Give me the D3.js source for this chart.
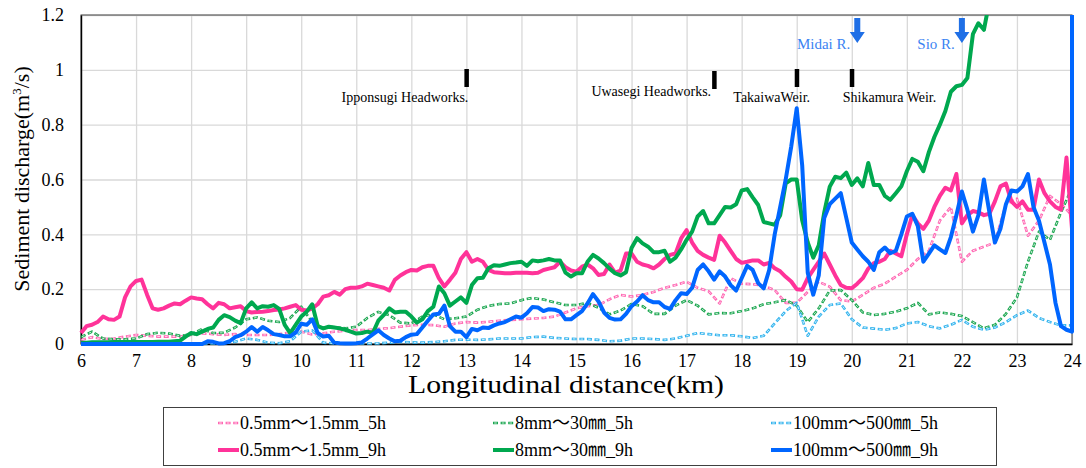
<!DOCTYPE html>
<html>
<head>
<meta charset="utf-8">
<script src="https://cdn.jsdelivr.net/npm/d3@7"></script>
<style>
  body { margin: 0; background: #fff; }
  svg { display: block; }
  text { font-family: "Liberation Serif", "Times New Roman", "Noto Sans CJK JP", serif; fill: #000; }
</style>
</head>
<body>
<svg id="chart" width="1086" height="468"></svg>
<script>
// Distance along the river (km): 0.1 km stations; the final 24.0 is repeated for the vertical rise of the 9h coarse series
const kmFine = [
  6.0,6.1,6.2,6.3,6.4,6.5,6.6,6.7,6.8,6.9,
  7.0,7.1,7.2,7.3,7.4,7.5,7.6,7.7,7.8,7.9,
  8.0,8.1,8.2,8.3,8.4,8.5,8.6,8.7,8.8,8.9,
  9.0,9.1,9.2,9.3,9.4,9.5,9.6,9.7,9.8,9.9,
  10.0,10.1,10.2,10.3,10.4,10.5,10.6,10.7,10.8,10.9,
  11.0,11.1,11.2,11.3,11.4,11.5,11.6,11.7,11.8,11.9,
  12.0,12.1,12.2,12.3,12.4,12.5,12.6,12.7,12.8,12.9,
  13.0,13.1,13.2,13.3,13.4,13.5,13.6,13.7,13.8,13.9,
  14.0,14.1,14.2,14.3,14.4,14.5,14.6,14.7,14.8,14.9,
  15.0,15.1,15.2,15.3,15.4,15.5,15.6,15.7,15.8,15.9,
  16.0,16.1,16.2,16.3,16.4,16.5,16.6,16.7,16.8,16.9,
  17.0,17.1,17.2,17.3,17.4,17.5,17.6,17.7,17.8,17.9,
  18.0,18.1,18.2,18.3,18.4,18.5,18.6,18.7,18.8,18.9,
  19.0,19.1,19.2,19.3,19.4,19.5,19.6,19.7,19.8,19.9,
  20.0,20.1,20.2,20.3,20.4,20.5,20.6,20.7,20.8,20.9,
  21.0,21.1,21.2,21.3,21.4,21.5,21.6,21.7,21.8,21.9,
  22.0,22.1,22.2,22.3,22.4,22.5,22.6,22.7,22.8,22.9,
  23.0,23.1,23.2,23.3,23.4,23.5,23.6,23.7,23.8,23.9,
  24.0,24.0
];

// Distance along the river (km): 0.2 km stations for the 5h runs
const kmCoarse = [
  6.0,6.2,6.4,6.6,6.8,7.0,7.2,7.4,7.6,7.8,
  8.0,8.2,8.4,8.6,8.8,9.0,9.2,9.4,9.6,9.8,
  10.0,10.2,10.4,10.6,10.8,11.0,11.2,11.4,11.6,11.8,
  12.0,12.2,12.4,12.6,12.8,13.0,13.2,13.4,13.6,13.8,
  14.0,14.2,14.4,14.6,14.8,15.0,15.2,15.4,15.6,15.8,
  16.0,16.2,16.4,16.6,16.8,17.0,17.2,17.4,17.6,17.8,
  18.0,18.2,18.4,18.6,18.8,19.0,19.2,19.4,19.6,19.8,
  20.0,20.2,20.4,20.6,20.8,21.0,21.2,21.4,21.6,21.8,
  22.0,22.2,22.4,22.6,22.8,23.0,23.2,23.4,23.6,23.8,
  24.0
];

// Sediment discharge (m3/s), 0.5mm–1.5mm, 9 h
const fine9h = [
  0.04,0.065,0.07,0.08,0.1,0.09,0.088,0.1,0.17,0.21,
  0.23,0.235,0.18,0.13,0.125,0.13,0.14,0.148,0.145,0.158,
  0.17,0.166,0.163,0.145,0.13,0.15,0.145,0.13,0.134,0.138,
  0.12,0.115,0.117,0.118,0.12,0.124,0.126,0.13,0.136,0.142,
  0.125,0.122,0.13,0.145,0.173,0.178,0.19,0.18,0.2,0.205,
  0.205,0.21,0.22,0.215,0.21,0.205,0.195,0.234,0.25,0.262,
  0.27,0.268,0.28,0.285,0.285,0.24,0.21,0.234,0.26,0.31,
  0.335,0.3,0.31,0.3,0.27,0.262,0.26,0.258,0.258,0.26,
  0.26,0.26,0.258,0.26,0.27,0.275,0.28,0.3,0.28,0.268,
  0.264,0.282,0.29,0.276,0.252,0.255,0.29,0.26,0.268,0.33,
  0.33,0.3,0.29,0.285,0.276,0.29,0.31,0.325,0.33,0.385,
  0.415,0.37,0.34,0.325,0.315,0.307,0.395,0.37,0.34,0.31,
  0.296,0.3,0.305,0.305,0.29,0.296,0.276,0.265,0.245,0.228,
  0.2,0.198,0.24,0.27,0.3,0.33,0.29,0.25,0.215,0.205,
  0.203,0.22,0.24,0.275,0.295,0.3,0.31,0.34,0.33,0.32,
  0.4,0.47,0.44,0.42,0.45,0.5,0.54,0.57,0.56,0.62,
  0.44,0.47,0.485,0.48,0.47,0.475,0.52,0.575,0.585,0.52,
  0.5,0.52,0.49,0.49,0.6,0.55,0.52,0.5,0.49,0.68,
  0.42
];

// Sediment discharge (m3/s), 8mm–30mm, 9 h (leaves the plot above 1.2 past 22.4 km)
const medium9h = [
  0.005,0.005,0.006,0.006,0.006,0.006,0.007,0.007,0.007,0.007,
  0.007,0.007,0.007,0.007,0.008,0.008,0.008,0.01,0.012,0.027,
  0.04,0.036,0.045,0.055,0.06,0.088,0.105,0.098,0.085,0.076,
  0.13,0.152,0.13,0.138,0.136,0.142,0.128,0.07,0.04,0.07,
  0.1,0.118,0.145,0.065,0.057,0.063,0.06,0.057,0.052,0.045,
  0.038,0.04,0.045,0.04,0.085,0.106,0.13,0.115,0.118,0.118,
  0.1,0.078,0.09,0.12,0.136,0.21,0.185,0.14,0.155,0.17,
  0.15,0.215,0.24,0.242,0.276,0.287,0.285,0.29,0.295,0.297,
  0.3,0.285,0.305,0.302,0.305,0.31,0.305,0.305,0.26,0.246,
  0.258,0.258,0.3,0.325,0.312,0.295,0.275,0.258,0.25,0.262,
  0.35,0.386,0.367,0.355,0.335,0.335,0.34,0.3,0.315,0.345,
  0.38,0.41,0.465,0.485,0.44,0.44,0.47,0.5,0.498,0.51,
  0.56,0.565,0.535,0.507,0.445,0.44,0.435,0.47,0.586,0.6,
  0.6,0.45,0.37,0.315,0.36,0.48,0.574,0.61,0.605,0.625,
  0.58,0.604,0.575,0.66,0.58,0.58,0.54,0.526,0.55,0.575,
  0.63,0.675,0.665,0.63,0.7,0.755,0.8,0.85,0.92,0.94,
  0.945,0.97,1.13,1.17,1.146,1.25
];

// Sediment discharge (m3/s), 100mm–500mm, 9 h
const coarse9h = [
  0,0,0,0,0,0,0,0,0,0,
  0,0,0,0,0,0,0,0,0,0,
  0,0,0,0.01,0.008,0.002,0.003,0.01,0.025,0.032,
  0.045,0.062,0.045,0.062,0.05,0.036,0.033,0.028,0.028,0.042,
  0.074,0.07,0.09,0.04,0.027,0.03,0.005,0.003,0.002,0.002,
  0.003,0.006,0.02,0.035,0.05,0.033,0.02,0.01,0.012,0.025,
  0.034,0.036,0.06,0.085,0.108,0.11,0.14,0.065,0.045,0.045,
  0.025,0.055,0.05,0.06,0.058,0.068,0.075,0.08,0.09,0.1,
  0.096,0.112,0.135,0.133,0.12,0.127,0.125,0.118,0.09,0.09,
  0.105,0.12,0.148,0.182,0.155,0.115,0.095,0.089,0.09,0.11,
  0.138,0.155,0.178,0.16,0.152,0.152,0.135,0.128,0.16,0.185,
  0.182,0.205,0.27,0.29,0.265,0.235,0.265,0.246,0.215,0.195,
  0.24,0.285,0.27,0.222,0.203,0.27,0.4,0.5,0.6,0.72,
  0.86,0.65,0.26,0.18,0.25,0.46,0.51,0.53,0.55,0.46,
  0.37,0.345,0.32,0.3,0.27,0.335,0.352,0.331,0.34,0.4,
  0.465,0.475,0.43,0.3,0.33,0.36,0.345,0.332,0.39,0.47,
  0.556,0.49,0.41,0.47,0.6,0.48,0.37,0.42,0.51,0.56,
  0.556,0.575,0.62,0.5,0.45,0.37,0.29,0.15,0.065,0.052,
  0.045,5
];

// Sediment discharge (m3/s), 0.5mm–1.5mm, 5 h
const fine5h = [
  0.015,0.025,0.018,0.02,0.027,0.033,0.03,0.027,0.027,0.027,
  0.033,0.039,0.036,0.033,0.036,0.033,0.033,0.033,0.036,0.042,
  0.045,0.035,0.039,0.045,0.048,0.051,0.051,0.055,0.058,0.063,
  0.068,0.07,0.069,0.063,0.075,0.08,0.078,0.081,0.085,0.088,
  0.09,0.093,0.095,0.1,0.115,0.13,0.138,0.142,0.163,0.179,
  0.173,0.179,0.19,0.205,0.215,0.227,0.205,0.192,0.148,0.24,
  0.22,0.218,0.212,0.197,0.15,0.15,0.19,0.227,0.209,0.16,
  0.155,0.179,0.205,0.22,0.246,0.27,0.31,0.34,0.45,0.5,
  0.3,0.34,0.355,0.37,0.51,0.53,0.395,0.45,0.54,0.51,
  0.47
];

// Sediment discharge (m3/s), 8mm–30mm, 5 h
const medium5h = [
  0.025,0.045,0.02,0.017,0.017,0.02,0.036,0.041,0.038,0.03,
  0.035,0.055,0.04,0.041,0.06,0.09,0.097,0.085,0.08,0.095,
  0.136,0.08,0.057,0.062,0.057,0.063,0.095,0.117,0.105,0.078,
  0.075,0.1,0.108,0.09,0.094,0.1,0.125,0.139,0.146,0.148,
  0.16,0.168,0.162,0.152,0.142,0.142,0.15,0.132,0.108,0.122,
  0.146,0.138,0.11,0.11,0.14,0.16,0.14,0.108,0.113,0.112,
  0.12,0.13,0.145,0.152,0.16,0.14,0.08,0.13,0.195,0.197,
  0.16,0.115,0.106,0.11,0.118,0.13,0.15,0.108,0.115,0.11,
  0.102,0.08,0.057,0.07,0.11,0.17,0.3,0.41,0.38,0.48,
  0.57
];

// Sediment discharge (m3/s), 100mm–500mm, 5 h
const coarse5h = [
  0.002,0.002,0.002,0.002,0.002,0.002,0.002,0.002,0.002,0.002,
  0.002,0.002,0.002,0.003,0.008,0.02,0.015,0.005,0.003,0.01,
  0.045,0.05,0.005,0.002,0.002,0.002,0.002,0.002,0.005,0.008,
  0.006,0.005,0.007,0.01,0.015,0.016,0.015,0.017,0.02,0.02,
  0.02,0.025,0.027,0.022,0.02,0.018,0.018,0.015,0.01,0.012,
  0.02,0.02,0.018,0.015,0.02,0.03,0.04,0.036,0.032,0.032,
  0.028,0.022,0.03,0.075,0.12,0.15,0.03,0.1,0.142,0.148,
  0.09,0.06,0.056,0.052,0.058,0.075,0.08,0.065,0.057,0.07,
  0.088,0.063,0.052,0.06,0.08,0.105,0.122,0.095,0.08,0.068,
  0.068
];

const xTicks = [6,7,8,9,10,11,12,13,14,15,16,17,18,19,20,21,22,23,24];
const yTicks = [0,0.2,0.4,0.6,0.8,1,1.2];

// Weirs and headworks along the reach
const structureNames = ["Ipponsugi Headworks.", "Uwasegi Headworks.", "TakaiwaWeir.", "Shikamura Weir."];
const structureKm = [13, 17.5, 19, 20];

// Tributary inflows
const tributaryNames = ["Midai R.", "Sio R."];
const tributaryKm = [20.1, 22];

const seriesNames = [
  "0.5mm〜1.5mm_5h", "8mm〜30㎜_5h", "100mm〜500㎜_5h",
  "0.5mm〜1.5mm_9h", "8mm〜30㎜_9h", "100mm〜500㎜_9h"
];

// ---- drawing ----
const svg = d3.select("#chart");
const W = 1086, H = 468;
const plotL = 81, plotR = 1072, plotT = 15, plotB = 344;

svg.append("rect").attr("width", W).attr("height", H).attr("fill", "#fff");

const x = d3.scaleLinear().domain([6, 24]).range([plotL, plotR]);
const y = d3.scaleLinear().domain([0, 1.2]).range([plotB, plotT]);

// gridlines
svg.append("g")
  .attr("transform", `translate(0,${plotB})`)
  .call(d3.axisBottom(x).tickValues(xTicks).tickSize(-(plotB - plotT)).tickFormat(""))
  .call(g => g.select(".domain").remove())
  .call(g => g.selectAll("line").attr("stroke", "#d9d9d9").attr("stroke-width", 1.3));
svg.append("g")
  .attr("transform", `translate(${plotL},0)`)
  .call(d3.axisLeft(y).tickValues(yTicks).tickSize(-(plotR - plotL)).tickFormat(""))
  .call(g => g.select(".domain").remove())
  .call(g => g.selectAll("line").attr("stroke", "#d9d9d9").attr("stroke-width", 1.3));

// plot frame
svg.append("rect")
  .attr("x", plotL).attr("y", plotT).attr("width", plotR - plotL).attr("height", plotB - plotT)
  .attr("fill", "none").attr("stroke", "#404040").attr("stroke-width", 1);

// tick labels
const yAxis = svg.append("g")
  .attr("transform", `translate(${plotL},0)`)
  .call(d3.axisLeft(y).tickValues(yTicks).tickSize(0).tickPadding(17).tickFormat(d3.format("~g")));
yAxis.select(".domain").attr("stroke", "#000").attr("stroke-width", 1.4);
yAxis.selectAll("text").attr("font-size", 18).attr("fill", "#000")
  .style("font-family", '"Liberation Serif", serif');

const xAxis = svg.append("g")
  .attr("transform", `translate(0,${plotB})`)
  .call(d3.axisBottom(x).tickValues(xTicks).tickSize(0).tickPadding(10).tickFormat(d3.format("d")));
xAxis.select(".domain").attr("stroke", "#000").attr("stroke-width", 1.4);
xAxis.selectAll("text").attr("font-size", 18).attr("fill", "#000")
  .style("font-family", '"Liberation Serif", serif');

// axis titles
svg.append("text")
  .attr("x", 566).attr("y", 393)
  .attr("text-anchor", "middle").attr("font-size", 25)
  .attr("textLength", 316).attr("lengthAdjust", "spacingAndGlyphs")
  .text("Longitudinal distance(km)");

const yTitle = svg.append("text")
  .attr("transform", "translate(29,179) rotate(-90)")
  .attr("text-anchor", "middle").attr("font-size", 22);
yTitle.append("tspan").text("Sediment discharge(m");
yTitle.append("tspan").attr("font-size", 13).attr("dy", -8).text("3");
yTitle.append("tspan").attr("dy", 8).text("/s)");

// series
const clipId = "plot-clip";
svg.append("clipPath").attr("id", clipId)
  .append("rect").attr("x", plotL - 2).attr("y", plotT).attr("width", plotR - plotL + 5).attr("height", plotB - plotT + 3);

const series = [
  { km: kmCoarse, vals: fine5h,   color: "#ff66b2", dashed: true },
  { km: kmCoarse, vals: medium5h, color: "#1aa64f", dashed: true },
  { km: kmCoarse, vals: coarse5h, color: "#33b4ee", dashed: true },
  { km: kmFine,   vals: fine9h,   color: "#ff3399", dashed: false },
  { km: kmFine,   vals: medium9h, color: "#00a84f", dashed: false },
  { km: kmFine,   vals: coarse9h, color: "#0066ff", dashed: false }
];

const line = d3.line().x(d => x(d[0])).y(d => y(d[1])).curve(d3.curveLinear);
const plot = svg.append("g").attr("clip-path", `url(#${clipId})`);

function drawDashed(sel, color) {
  // outlined dash: coloured dash with a thin white core
  sel.append("path").attr("fill", "none").attr("stroke", color).attr("stroke-width", 2.6)
    .attr("stroke-dasharray", "5 2.6").attr("stroke-linejoin", "round");
  sel.append("path").attr("fill", "none").attr("stroke", "#fff").attr("stroke-width", 0.8)
    .attr("stroke-dasharray", "2.6 5").attr("stroke-dashoffset", -1.2);
}

series.forEach(s => {
  const pts = s.vals.map((v, i) => [s.km[i], v]);
  const g = plot.append("g");
  if (s.dashed) {
    drawDashed(g, s.color);
    g.selectAll("path").attr("d", line(pts));
  } else {
    g.append("path").attr("d", line(pts)).attr("fill", "none")
      .attr("stroke", s.color).attr("stroke-width", 4).attr("stroke-linejoin", "round");
  }
});

// structure markers and labels
const labelPlacement = [
  { anchor: "end", dx: 2, y: 102 },
  { anchor: "end", dx: -3, y: 96 },
  { anchor: "middle", dx: -25, y: 102 },
  { anchor: "start", dx: -9, y: 102 }
];
const markerTop = [69, 71, 69, 69];
structureKm.forEach((k, i) => {
  svg.append("rect")
    .attr("x", x(k) - 2).attr("y", markerTop[i]).attr("width", 4.5).attr("height", 18)
    .attr("fill", "#000");
  const p = labelPlacement[i];
  svg.append("text")
    .attr("x", x(k) + p.dx).attr("y", p.y)
    .attr("text-anchor", p.anchor).attr("font-size", 14)
    .text(structureNames[i]);
});

// tributary arrows and labels
tributaryKm.forEach((k, i) => {
  const cx = x(k), t = 18;
  svg.append("path")
    .attr("d", `M${cx - 3},${t} L${cx + 3},${t} L${cx + 3},${t + 14} L${cx + 7.5},${t + 14} L${cx},${t + 25} L${cx - 7.5},${t + 14} L${cx - 3},${t + 14} Z`)
    .attr("fill", "#1f6fe6");
  svg.append("text")
    .attr("x", cx - 7).attr("y", 49)
    .attr("text-anchor", "end").attr("font-size", 15)
    .style("fill", "#3b83f2")
    .text(tributaryNames[i]);
});

// legend
const legend = svg.append("g");
legend.append("rect")
  .attr("x", 163.5).attr("y", 407.5).attr("width", 833).attr("height", 58)
  .attr("fill", "#fff").attr("stroke", "#404040").attr("stroke-width", 1);

const legendCols = [218, 493, 771];
const legendRows = [423, 450];
series.forEach((s, i) => {
  const cx = legendCols[i % 3], cy = legendRows[Math.floor(i / 3)];
  const g = legend.append("g");
  if (s.dashed) {
    drawDashed(g, s.color);
    g.selectAll("path").attr("d", `M${cx},${cy} L${cx + 21},${cy}`);
  } else {
    g.append("path").attr("d", `M${cx},${cy} L${cx + 21},${cy}`)
      .attr("stroke", s.color).attr("stroke-width", 4);
  }
  legend.append("text")
    .attr("x", cx + 22).attr("y", cy + 6)
    .attr("font-size", 18)
    .text(seriesNames[i]);
});
</script>
</body>
</html>
